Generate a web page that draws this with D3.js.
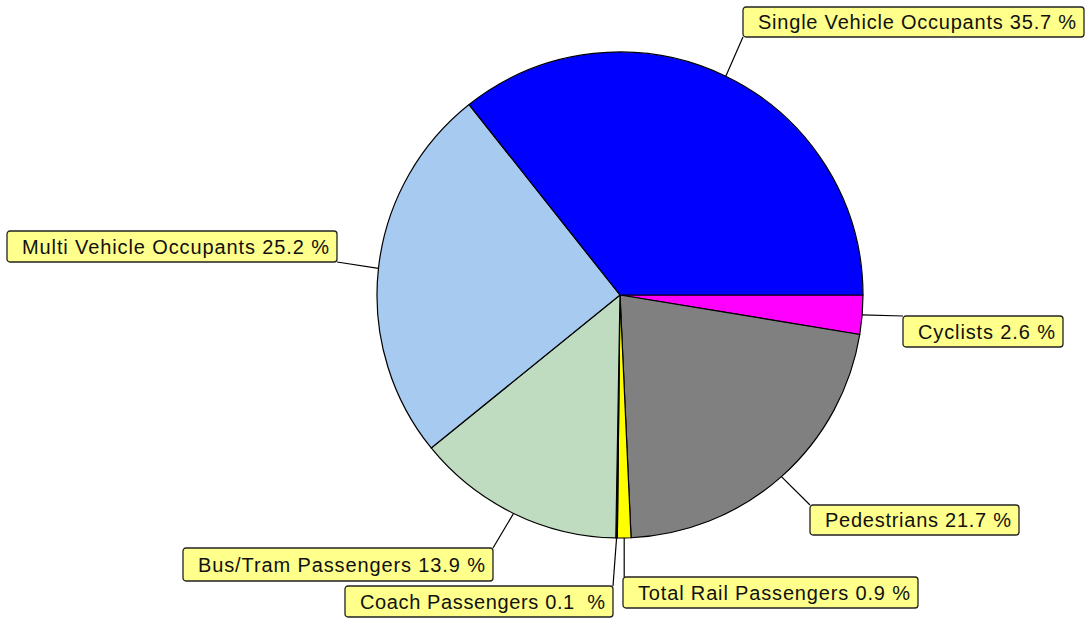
<!DOCTYPE html>
<html>
<head>
<meta charset="utf-8">
<script src="https://d3js.org/d3.v7.min.js"></script>
<style>
  body { margin: 0; background: #ffffff; }
  .label text { font-family: "Liberation Sans", Arial, sans-serif; font-size: 20px; fill: #111; }
</style>
</head>
<body>
<svg class="chart"></svg>
<script>
// categories, in drawing order (clockwise from 3 o'clock)
var categories = ["Cyclists", "Pedestrians", "Total Rail Passengers", "Coach Passengers",
  "Bus/Tram Passengers", "Multi Vehicle Occupants", "Single Vehicle Occupants"];

// share of each category, %
var shares = [2.6, 21.7, 0.9, 0.1, 13.9, 25.2, 35.7];

// label texts as printed
var labelTexts = ["Cyclists 2.6 %", "Pedestrians 21.7 %", "Total Rail Passengers 0.9 %", "Coach Passengers 0.1  %",
  "Bus/Tram Passengers 13.9 %", "Multi Vehicle Occupants 25.2 %", "Single Vehicle Occupants 35.7 %"];

// slice colours
var colors = ["#ff00ff", "#808080", "#ffff00", "#202020", "#c0dcc0", "#a6caf0", "#0000ff"];

// label box placement [x, y, width, height]
var boxes = [
  [903, 316, 160, 31],
  [810, 505, 209, 30],
  [623, 577, 295, 31],
  [345, 586, 268, 31],
  [183, 548, 310, 33],
  [7, 231, 330, 31],
  [743, 7, 341, 30]
];

var width = 1088, height = 621;
var cx = 620, cy = 295, radius = 243;

var data = categories.map(function(c, i) {
  return {name: c, value: shares[i], text: labelTexts[i], color: colors[i], box: boxes[i]};
});

// initiate chart
var svg = d3.select(".chart")
  .attr("width", width)
  .attr("height", height);

var chart = svg.append("g")
  .attr("transform", "translate(" + cx + "," + cy + ")");

// pie layout starting at 3 o'clock
var pie = d3.pie()
  .sort(null)
  .value(function(d) { return d.value; })
  .startAngle(Math.PI / 2)
  .endAngle(Math.PI / 2 + 2 * Math.PI);

var arc = d3.arc().innerRadius(0).outerRadius(radius);
var edgeArc = d3.arc().innerRadius(radius).outerRadius(radius);

var arcs = pie(data);

// append slices
chart.selectAll(".slice")
  .data(arcs)
  .enter().append("path")
  .attr("class", "slice")
  .attr("d", arc)
  .attr("fill", function(d) { return d.data.color; })
  .attr("stroke", "#000")
  .attr("stroke-width", 1.2)
  .attr("stroke-linejoin", "round");

// leader lines, from slice edge to nearest point of the box
var labels = svg.append("g");

arcs.forEach(function(d) {
  var p = edgeArc.centroid(d);
  var px = p[0] + cx, py = p[1] + cy;
  var b = d.data.box;
  var qx = Math.max(b[0], Math.min(b[0] + b[2], px));
  var qy = Math.max(b[1], Math.min(b[1] + b[3], py));

  labels.append("line")
    .attr("x1", px).attr("y1", py)
    .attr("x2", qx).attr("y2", qy)
    .attr("stroke", "#000")
    .attr("stroke-width", 1.2);
});

// append label boxes
var label = labels.selectAll(".label")
  .data(data)
  .enter().append("g")
  .attr("class", "label")
  .attr("transform", function(d) { return "translate(" + d.box[0] + "," + d.box[1] + ")"; });

label.append("rect")
  .attr("width", function(d) { return d.box[2]; })
  .attr("height", function(d) { return d.box[3]; })
  .attr("rx", 3)
  .attr("fill", "#ffff8c")
  .attr("stroke", "#222")
  .attr("stroke-width", 1.3);

label.append("text")
  .attr("x", 15)
  .attr("y", function(d) { return d.box[3] / 2 + 7; })
  .attr("textLength", function(d) { return d.box[2] - 23; })
  .attr("lengthAdjust", "spacing")
  .style("white-space", "pre")
  .text(function(d) { return d.text; });
</script>
</body>
</html>
